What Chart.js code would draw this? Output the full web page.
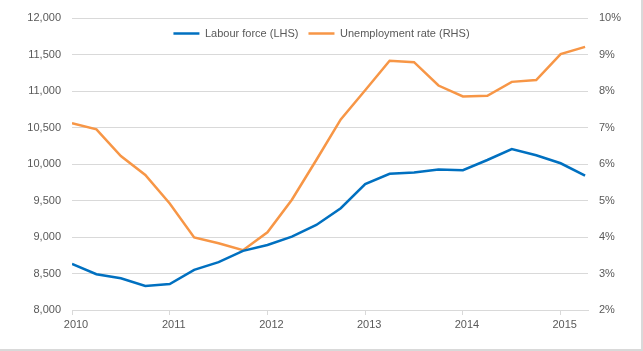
<!DOCTYPE html>
<html>
<head>
<meta charset="utf-8">
<script src="https://cdn.jsdelivr.net/npm/chart.js@4/dist/chart.umd.min.js"></script>
<style>
  body { margin: 0; background: #fff; }
</style>
</head>
<body>
<canvas id="myChart" width="643" height="351"></canvas>
<script>
  // quarterly, 2010 Q1 - 2015 Q2
  var quarters = [2010, 2010.25, 2010.5, 2010.75, 2011, 2011.25, 2011.5, 2011.75,
    2012, 2012.25, 2012.5, 2012.75, 2013, 2013.25, 2013.5, 2013.75,
    2014, 2014.25, 2014.5, 2014.75, 2015, 2015.25];
  var labourForce = [8630, 8490, 8435, 8330, 8355, 8550, 8655, 8810,
    8890, 9005, 9165, 9395, 9725, 9865, 9885, 9925,
    9915, 10055, 10205, 10120, 10010, 9840];
  var unemploymentRate = [7.12, 6.95, 6.22, 5.70, 4.92, 3.99, 3.83, 3.64,
    4.13, 5.02, 6.11, 7.22, 8.02, 8.83, 8.79, 8.15,
    7.85, 7.87, 8.25, 8.30, 9.01, 9.21];
  var yearTicks = [2010, 2011, 2012, 2013, 2014, 2015];

  var tickColor = '#595959';
  var gridColor = '#d9d9d9';
  var fontFamily = '"Liberation Sans", Arial, sans-serif';

  function pts(ys) {
    return quarters.map(function (q, i) { return { x: q, y: ys[i] }; });
  }

  // legend sits inside the plot: take no room during layout, get its height back for drawing
  var legendOverlay = {
    id: 'legendOverlay',
    beforeLayout: function (chart) {
      var lg = chart.legend;
      if (lg && !lg._flat) {
        var fit = lg.fit;
        lg.fit = function () {
          fit.call(this);
          this._realHeight = this.height;
          this.height = 0;
        };
        lg._flat = true;
      }
    },
    afterLayout: function (chart) {
      var lg = chart.legend;
      if (lg && lg._realHeight) {
        lg.height = lg._realHeight;
        lg.bottom = lg.top + lg.height;
      }
    }
  };

  var frame = {
    id: 'frame',
    afterDraw: function (chart) {
      var c = chart.ctx;
      c.save();
      c.fillStyle = gridColor;
      c.fillRect(641, 0, 2, 351);
      c.fillRect(0, 349, 643, 2);
      c.restore();
    }
  };

  var ctx = document.getElementById('myChart').getContext('2d');
  var myChart = new Chart(ctx, {
    type: 'line',
    data: {
      datasets: [{
        label: 'Labour force (LHS)',
        data: pts(labourForce),
        borderColor: '#0070c0',
        backgroundColor: '#0070c0',
        borderWidth: 2.5,
        pointRadius: 0,
        yAxisID: 'y'
      }, {
        label: 'Unemployment rate (RHS)',
        data: pts(unemploymentRate),
        borderColor: '#f79646',
        backgroundColor: '#f79646',
        borderWidth: 2.5,
        pointRadius: 0,
        yAxisID: 'y1'
      }]
    },
    options: {
      responsive: false,
      animation: false,
      layout: { padding: { top: 18, left: 0, right: 0, bottom: 0 } },
      plugins: {
        tooltip: { enabled: false },
        legend: {
          position: 'top',
          align: 'center',
          labels: {
            usePointStyle: true,
            pointStyle: 'line',
            pointStyleWidth: 26,
            color: tickColor,
            font: { family: fontFamily, size: 11 },
            padding: 10
          }
        }
      },
      scales: {
        x: {
          type: 'linear',
          min: 2010,
          max: 2015.28,
          afterBuildTicks: function (axis) {
            axis.ticks = yearTicks.map(function (v) { return { value: v }; });
          },
          afterFit: function (axis) { axis.height = 41; },
          grid: { drawOnChartArea: false, drawTicks: true, tickLength: 5, color: gridColor },
          border: { color: gridColor },
          ticks: {
            color: tickColor,
            font: { family: fontFamily, size: 11 },
            labelOffset: 4,
            padding: 3,
            maxRotation: 0,
            callback: function (v) { return String(v); }
          }
        },
        y: {
          position: 'left',
          min: 8000,
          max: 12000,
          afterFit: function (axis) { axis.width = 72; },
          grid: { color: gridColor, drawTicks: false },
          border: { display: false },
          ticks: {
            stepSize: 500,
            color: tickColor,
            padding: 11,
            font: { family: fontFamily, size: 11 },
            callback: function (v) { return v.toLocaleString('en-US'); }
          }
        },
        y1: {
          position: 'right',
          min: 2,
          max: 10,
          afterFit: function (axis) { axis.width = 55; },
          grid: { drawOnChartArea: false, drawTicks: false },
          border: { display: false },
          ticks: {
            stepSize: 1,
            color: tickColor,
            padding: 11,
            font: { family: fontFamily, size: 11 },
            callback: function (v) { return v + '%'; }
          }
        }
      }
    },
    plugins: [legendOverlay, frame]
  });
</script>
</body>
</html>
